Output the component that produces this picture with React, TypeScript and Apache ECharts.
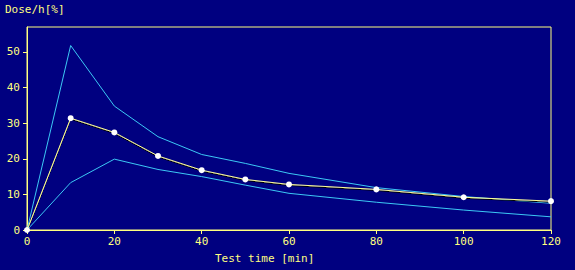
import React, { useEffect, useRef } from "react";
import * as echarts from "echarts";

const times = [0, 10, 20, 30, 40, 50, 60, 80, 100, 120];
const meanDose = [0, 31.4, 27.4, 20.8, 16.8, 14.2, 12.8, 11.4, 9.2, 8.1];
const upperDose = [0, 51.8, 34.8, 26.2, 21.2, 18.7, 15.9, 11.9, 9.4, 7.5];
const lowerDose = [0, 13.3, 19.9, 17.0, 15.0, 12.6, 10.3, 7.8, 5.6, 3.7];
const yTicks = [0, 10, 20, 30, 40, 50];
const xTicks = [0, 20, 40, 60, 80, 100, 120];

const pairs = (ys: number[]) => times.map((t, i) => [t, ys[i]]);

const YEL = "#ffff80";
const CYAN = "#3cc8f4";
const FONT = "'DejaVu Sans Mono', monospace";

export default function App() {
  const ref = useRef<HTMLDivElement>(null);
  useEffect(() => {
    const chart = echarts.init(ref.current!, null, { renderer: "svg" });
    chart.setOption({
      animation: false,
      backgroundColor: "#000080",
      grid: {
        left: 27,
        right: 24,
        top: 27,
        bottom: 40,
        show: true,
        borderColor: YEL,
        borderWidth: 1,
        backgroundColor: "transparent",
      },
      xAxis: {
        type: "value",
        min: 0,
        max: 120,
        interval: 20,
        axisLine: { lineStyle: { color: YEL, width: 1 } },
        axisTick: { show: true, length: 4, inside: false, lineStyle: { color: YEL }, customValues: xTicks },
        axisLabel: { color: YEL, fontFamily: FONT, fontSize: 11, margin: 6, customValues: xTicks },
        splitLine: { show: false },
      },
      yAxis: {
        type: "value",
        min: 0,
        max: 57,
        interval: 10,
        axisLine: { show: true, lineStyle: { color: YEL, width: 1 } },
        axisTick: { show: true, length: 4, inside: false, lineStyle: { color: YEL }, customValues: yTicks },
        axisLabel: { color: YEL, fontFamily: FONT, fontSize: 11, margin: 7, customValues: yTicks },
        splitLine: { show: false },
      },
      graphic: [
        {
          type: "text",
          left: 5,
          top: 4,
          style: { text: "Dose/h[%]", fill: YEL, font: `11px ${FONT}` },
        },
        {
          type: "text",
          left: 215,
          top: 253,
          style: { text: "Test time [min]", fill: YEL, font: `11px ${FONT}` },
        },
      ],
      series: [
        {
          type: "line",
          data: pairs(upperDose),
          symbol: "none",
          lineStyle: { color: CYAN, width: 1 },
          z: 2,
        },
        {
          type: "line",
          data: pairs(lowerDose),
          symbol: "none",
          lineStyle: { color: CYAN, width: 1 },
          z: 2,
        },
        {
          type: "line",
          data: pairs(meanDose),
          symbol: "circle",
          symbolSize: 6,
          itemStyle: { color: "#ffffff", borderWidth: 0 },
          lineStyle: {
            color: "#ffff99",
            width: 1,
            shadowColor: "#000000",
            shadowOffsetY: 1,
            shadowBlur: 0,
          },
          z: 3,
        },
      ],
    });
    return () => chart.dispose();
  }, []);
  return (
    <div
      ref={ref}
      style={{ position: "fixed", left: 0, top: 0, width: 575, height: 270 }}
    />
  );
}
